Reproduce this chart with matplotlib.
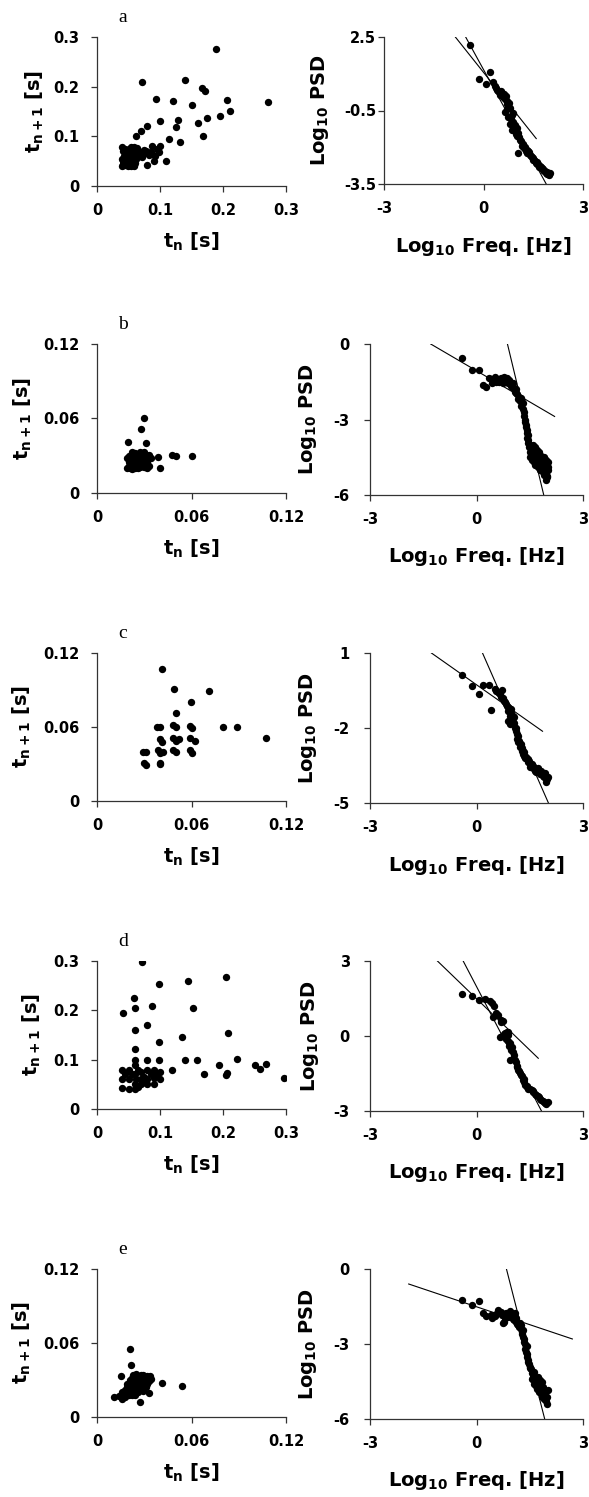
import numpy as np
import matplotlib
matplotlib.use("Agg")
import matplotlib.pyplot as plt

plt.rcParams['font.family'] = ['DejaVu Sans']
plt.rcParams['font.weight'] = 'bold'
plt.rcParams['mathtext.fontset'] = 'custom'
plt.rcParams['mathtext.rm'] = 'DejaVu Sans:bold'
plt.rcParams['mathtext.it'] = 'DejaVu Sans:bold'
plt.rcParams['mathtext.bf'] = 'DejaVu Sans:bold'
plt.rcParams['mathtext.default'] = 'rm'
plt.rcParams['axes.unicode_minus'] = False

# ---- return maps t_n vs t_n+1 (s) ----
scatter_a = [(0.189, 0.275), (0.071, 0.210), (0.139, 0.213), (0.167, 0.198), (0.172, 0.192),
             (0.094, 0.175), (0.120, 0.171), (0.150, 0.163), (0.207, 0.173), (0.272, 0.170),
             (0.211, 0.151), (0.195, 0.141), (0.174, 0.137), (0.160, 0.126), (0.129, 0.133),
             (0.125, 0.118), (0.100, 0.130), (0.080, 0.121), (0.070, 0.111), (0.062, 0.100),
             (0.114, 0.094), (0.131, 0.089), (0.169, 0.100), (0.040, 0.079), (0.054, 0.079),
             (0.087, 0.081), (0.100, 0.081), (0.099, 0.069), (0.109, 0.051), (0.090, 0.050),
             (0.079, 0.042), (0.080, 0.069), (0.068, 0.069), (0.057, 0.059), (0.040, 0.040),
             (0.042, 0.045), (0.045, 0.042), (0.048, 0.048), (0.050, 0.043), (0.052, 0.050),
             (0.055, 0.045), (0.058, 0.040), (0.060, 0.047), (0.062, 0.055), (0.040, 0.055),
             (0.043, 0.060), (0.047, 0.052), (0.050, 0.058), (0.053, 0.062), (0.056, 0.055),
             (0.059, 0.065), (0.041, 0.050), (0.044, 0.065), (0.048, 0.070), (0.051, 0.068),
             (0.055, 0.072), (0.060, 0.062), (0.065, 0.070), (0.070, 0.068), (0.075, 0.072),
             (0.045, 0.075), (0.050, 0.075), (0.058, 0.078), (0.063, 0.072), (0.068, 0.060),
             (0.072, 0.058), (0.085, 0.068), (0.092, 0.060), (0.095, 0.075), (0.041, 0.042),
             (0.043, 0.048), (0.046, 0.046), (0.049, 0.040), (0.051, 0.045), (0.054, 0.041),
             (0.056, 0.050), (0.059, 0.043), (0.044, 0.052), (0.047, 0.058), (0.052, 0.054),
             (0.057, 0.060), (0.061, 0.068), (0.066, 0.064), (0.064, 0.077), (0.073, 0.064),
             (0.078, 0.070), (0.082, 0.062), (0.088, 0.064), (0.042, 0.070), (0.053, 0.066),
             (0.046, 0.062)]

scatter_b = [(0.0296, 0.0607), (0.0277, 0.0512), (0.0196, 0.0413), (0.0309, 0.0399), (0.039, 0.029),
             (0.040, 0.020), (0.0477, 0.031), (0.0504, 0.030), (0.060, 0.0297), (0.019, 0.020),
             (0.020, 0.022), (0.021, 0.020), (0.022, 0.019), (0.023, 0.021), (0.024, 0.020),
             (0.025, 0.022), (0.026, 0.020), (0.027, 0.021), (0.028, 0.022), (0.030, 0.021),
             (0.032, 0.020), (0.033, 0.022), (0.020, 0.025), (0.021, 0.027), (0.022, 0.030),
             (0.023, 0.028), (0.024, 0.026), (0.025, 0.029), (0.026, 0.031), (0.027, 0.027),
             (0.028, 0.030), (0.029, 0.032), (0.030, 0.029), (0.031, 0.026), (0.032, 0.030),
             (0.033, 0.031), (0.034, 0.028), (0.030, 0.033), (0.027, 0.033), (0.024, 0.032),
             (0.020, 0.030), (0.019, 0.028), (0.022, 0.024), (0.029, 0.024), (0.031, 0.023),
             (0.021, 0.024), (0.023, 0.031), (0.025, 0.025), (0.026, 0.028), (0.028, 0.025),
             (0.029, 0.028), (0.031, 0.031), (0.032, 0.025), (0.023, 0.023), (0.027, 0.030),
             (0.030, 0.026), (0.022, 0.033)]

scatter_c = [(0.041, 0.107), (0.049, 0.091), (0.071, 0.089), (0.0596, 0.0805), (0.050, 0.0716),
             (0.080, 0.060), (0.089, 0.060), (0.107, 0.051), (0.038, 0.060), (0.040, 0.060),
             (0.048, 0.062), (0.050, 0.060), (0.059, 0.061), (0.060, 0.059), (0.040, 0.050),
             (0.041, 0.048), (0.048, 0.051), (0.050, 0.049), (0.052, 0.050), (0.059, 0.051),
             (0.062, 0.049), (0.029, 0.040), (0.031, 0.040), (0.039, 0.041), (0.040, 0.039),
             (0.042, 0.040), (0.048, 0.041), (0.050, 0.040), (0.059, 0.041), (0.060, 0.039),
             (0.030, 0.031), (0.031, 0.029), (0.040, 0.031), (0.040, 0.030)]

scatter_d = [(0.072, 0.297), (0.099, 0.253), (0.144, 0.259), (0.204, 0.268), (0.042, 0.195),
             (0.059, 0.224), (0.061, 0.205), (0.087, 0.208), (0.152, 0.205), (0.080, 0.171),
             (0.060, 0.160), (0.208, 0.154), (0.135, 0.145), (0.099, 0.136), (0.060, 0.121),
             (0.099, 0.100), (0.139, 0.100), (0.158, 0.100), (0.223, 0.101), (0.080, 0.100),
             (0.060, 0.100), (0.119, 0.080), (0.170, 0.070), (0.194, 0.090), (0.204, 0.069),
             (0.207, 0.072), (0.251, 0.089), (0.268, 0.092), (0.258, 0.081), (0.297, 0.063),
             (0.040, 0.080), (0.040, 0.060), (0.040, 0.042), (0.050, 0.040), (0.050, 0.060),
             (0.050, 0.080), (0.060, 0.040), (0.060, 0.050), (0.060, 0.070), (0.060, 0.090),
             (0.062, 0.060), (0.065, 0.080), (0.070, 0.050), (0.070, 0.060), (0.070, 0.075),
             (0.075, 0.065), (0.080, 0.050), (0.080, 0.060), (0.080, 0.080), (0.085, 0.070),
             (0.090, 0.050), (0.090, 0.062), (0.090, 0.080), (0.095, 0.070), (0.100, 0.060),
             (0.100, 0.075), (0.055, 0.070), (0.045, 0.070), (0.065, 0.045), (0.075, 0.055)]

scatter_e = [(0.021, 0.055), (0.0217, 0.042), (0.041, 0.0276), (0.054, 0.0249), (0.027, 0.0119),
             (0.0106, 0.016), (0.0153, 0.0335), (0.0334, 0.0335), (0.033, 0.0195), (0.014, 0.017),
             (0.016, 0.015), (0.017, 0.019), (0.018, 0.016), (0.019, 0.021), (0.020, 0.018),
             (0.021, 0.023), (0.022, 0.020), (0.023, 0.025), (0.024, 0.022), (0.025, 0.027),
             (0.026, 0.024), (0.027, 0.029), (0.028, 0.026), (0.029, 0.031), (0.030, 0.028),
             (0.031, 0.030), (0.032, 0.027), (0.020, 0.025), (0.022, 0.028), (0.024, 0.031),
             (0.026, 0.033), (0.028, 0.034), (0.023, 0.034), (0.025, 0.030), (0.027, 0.023),
             (0.029, 0.021), (0.031, 0.024), (0.018, 0.022), (0.016, 0.020), (0.021, 0.030),
             (0.030, 0.033), (0.033, 0.029), (0.019, 0.027), (0.024, 0.018), (0.026, 0.020),
             (0.022, 0.032), (0.025, 0.033), (0.027, 0.032), (0.029, 0.034), (0.031, 0.032),
             (0.026, 0.026), (0.028, 0.029), (0.024, 0.028), (0.021, 0.026), (0.019, 0.024),
             (0.017, 0.017), (0.022, 0.018), (0.030, 0.031), (0.032, 0.033), (0.034, 0.031),
             (0.028, 0.031), (0.025, 0.035), (0.023, 0.029)]

# ---- power spectra (log10 freq, log10 PSD) ----
psd_a = [(-0.41, 2.17), (-0.13, 0.77), (0.07, 0.58), (0.19, 1.06), (0.28, 0.66), (0.38, 0.42),
         (0.45, 0.30), (0.50, 0.15), (0.55, 0.22), (0.60, 0.05), (0.65, -0.05), (0.68, 0.10),
         (0.70, -0.25), (0.75, -0.30), (0.80, -0.40), (0.65, -0.55), (0.75, -0.75), (0.85, -0.70),
         (0.90, -0.60), (0.80, -1.05), (0.85, -1.30), (0.95, -1.10), (1.00, -1.20), (1.05, -1.40),
         (1.08, -1.60), (1.12, -1.75), (1.05, -2.22), (1.15, -1.95), (1.20, -1.85), (1.25, -2.00),
         (1.30, -2.10), (1.35, -2.15), (1.40, -2.30), (1.45, -2.40), (1.50, -2.45), (1.55, -2.55),
         (1.60, -2.60), (1.65, -2.70), (1.70, -2.75), (1.75, -2.85), (1.80, -2.90), (1.85, -2.95),
         (1.90, -3.00), (1.95, -3.05), (1.98, -3.08), (0.35, 0.50), (0.42, 0.35), (0.52, 0.28),
         (0.58, 0.12), (0.62, 0.18), (0.72, -0.10), (0.78, -0.20), (0.70, -0.45), (0.82, -0.85),
         (0.88, -0.95), (0.92, -1.25), (0.98, -1.45), (1.02, -1.55), (1.10, -1.70), (1.18, -1.90),
         (1.22, -2.05), (1.28, -2.15), (1.32, -2.25), (1.38, -2.20), (1.42, -2.35), (1.48, -2.50),
         (1.52, -2.50), (1.58, -2.65), (1.62, -2.68), (1.68, -2.80), (1.72, -2.82), (1.78, -2.92),
         (1.82, -2.95), (1.88, -3.05), (1.92, -3.10), (1.96, -3.12), (2.00, -3.05)]

psd_b = [(-0.42, -0.56), (-0.13, -1.02), (0.07, -1.05), (0.19, -1.62), (0.28, -1.71), (0.36, -1.35),
         (0.42, -1.40), (0.48, -1.45), (0.52, -1.30), (0.58, -1.40), (0.62, -1.50), (0.68, -1.35),
         (0.72, -1.45), (0.78, -1.30), (0.82, -1.40), (0.88, -1.55), (0.92, -1.45), (0.98, -1.65),
         (1.02, -1.55), (1.05, -1.75), (1.10, -1.80), (1.12, -1.95), (1.15, -2.00), (1.20, -2.10),
         (1.22, -2.25), (1.25, -2.15), (1.30, -2.35), (1.28, -2.30), (1.32, -2.60), (1.35, -2.85),
         (1.37, -3.10), (1.40, -3.30), (1.41, -3.54), (1.43, -3.75), (1.45, -3.94), (1.48, -4.10),
         (1.50, -4.30), (1.52, -4.50), (1.55, -4.20), (1.58, -4.00), (1.60, -4.40), (1.62, -4.70),
         (1.65, -4.10), (1.68, -4.50), (1.70, -4.80), (1.72, -4.30), (1.75, -4.60), (1.78, -4.90),
         (1.80, -4.40), (1.82, -4.70), (1.85, -5.00), (1.88, -4.60), (1.90, -5.20), (1.92, -4.80),
         (1.95, -5.10), (1.97, -5.40), (2.00, -5.00), (2.02, -4.70), (1.98, -5.25), (0.45, -1.55),
         (0.55, -1.50), (0.65, -1.45), (0.75, -1.55), (0.85, -1.35), (0.95, -1.50), (1.00, -1.70),
         (1.08, -1.90), (1.18, -2.20), (1.26, -2.45), (1.33, -2.70), (1.36, -3.00), (1.39, -3.20),
         (1.42, -3.40), (1.44, -3.60), (1.46, -3.80), (1.50, -4.00), (1.53, -4.30), (1.57, -4.60),
         (1.60, -4.10), (1.63, -4.30), (1.66, -4.80), (1.70, -4.20), (1.73, -4.90), (1.76, -4.30),
         (1.80, -5.00), (1.84, -4.50), (1.87, -5.10), (1.90, -4.50), (1.93, -5.00), (1.96, -4.60),
         (1.99, -5.30), (2.00, -4.90)]

psd_c = [(-0.42, 0.13), (-0.12, -0.32), (0.07, -0.63), (0.19, -0.29), (0.35, -0.27), (0.42, -1.27),
         (0.52, -0.43), (0.60, -0.55), (0.65, -0.65), (0.72, -0.49), (0.75, -0.80), (0.80, -0.95),
         (0.85, -1.10), (0.88, -1.30), (0.92, -1.20), (0.95, -1.50), (0.98, -1.25), (1.00, -1.65),
         (1.03, -1.76), (1.05, -1.55), (1.08, -2.00), (1.10, -2.10), (1.13, -2.23), (1.15, -2.45),
         (1.18, -2.55), (1.22, -2.76), (1.25, -2.65), (1.28, -2.90), (1.31, -3.03), (1.35, -2.95),
         (1.38, -3.20), (1.42, -3.25), (1.45, -3.35), (1.50, -3.43), (1.52, -3.55), (1.58, -3.50),
         (1.62, -3.65), (1.69, -3.76), (1.72, -3.60), (1.78, -3.85), (1.82, -3.70), (1.88, -3.90),
         (1.92, -3.80), (1.95, -3.96), (1.97, -4.16), (2.00, -3.95), (0.90, -1.70), (0.95, -1.85),
         (0.55, -0.50), (0.62, -0.60), (0.68, -0.75), (0.78, -0.90), (0.82, -1.05), (0.90, -1.15),
         (0.97, -1.40), (1.02, -1.50), (1.06, -1.80), (1.12, -2.00), (1.16, -2.30), (1.20, -2.50),
         (1.24, -2.70), (1.27, -2.80), (1.30, -2.90), (1.33, -3.10), (1.40, -3.15), (1.44, -3.25),
         (1.48, -3.30), (1.55, -3.45), (1.60, -3.55), (1.65, -3.70), (1.70, -3.65), (1.75, -3.75),
         (1.80, -3.80), (1.85, -3.85), (1.90, -3.95), (1.98, -4.05)]

psd_d = [(-0.42, 1.67), (-0.12, 1.60), (0.07, 1.44), (0.23, 1.48), (0.37, 1.41), (0.43, 1.31),
         (0.47, 0.77), (0.56, 0.91), (0.70, 0.64), (0.75, 0.60), (0.66, -0.03), (0.80, 0.11),
         (0.85, 0.15), (0.89, 0.17), (0.90, 0.05), (0.94, -0.29), (1.00, -0.45), (1.03, -0.63),
         (0.94, -0.96), (1.05, -0.75), (1.10, -1.05), (1.13, -1.23), (1.18, -1.35), (1.22, -1.49),
         (1.25, -1.55), (1.31, -1.76), (1.35, -1.85), (1.41, -2.03), (1.45, -2.10), (1.55, -2.16),
         (1.60, -2.25), (1.69, -2.36), (1.75, -2.45), (1.83, -2.56), (1.90, -2.62), (1.95, -2.70),
         (1.97, -2.67), (0.50, 1.20), (0.60, 0.85), (0.68, 0.55), (0.72, 0.00), (0.78, 0.10),
         (0.82, -0.10), (0.88, -0.20), (0.92, -0.40), (0.98, -0.55), (1.02, -0.90), (1.08, -0.95),
         (1.15, -1.20), (1.20, -1.40), (1.28, -1.60), (1.33, -1.70), (1.38, -1.95), (1.43, -2.00),
         (1.50, -2.10), (1.58, -2.20), (1.65, -2.30), (1.72, -2.40), (1.80, -2.50), (1.86, -2.58),
         (1.92, -2.66), (2.00, -2.65)]

psd_e = [(-0.42, -1.24), (-0.12, -1.44), (0.07, -1.29), (0.19, -1.76), (0.28, -1.89), (0.40, -1.85),
         (0.52, -1.89), (0.61, -1.63), (0.68, -1.70), (0.75, -2.16), (0.80, -1.95), (0.84, -1.76),
         (0.90, -1.80), (0.94, -1.69), (1.00, -1.90), (1.05, -2.05), (1.08, -1.76), (1.12, -2.10),
         (1.18, -2.25), (1.22, -2.16), (1.25, -2.40), (1.28, -2.60), (1.31, -2.43), (1.33, -2.80),
         (1.36, -3.00), (1.38, -3.20), (1.41, -3.09), (1.43, -3.40), (1.45, -3.63), (1.48, -3.80),
         (1.52, -3.95), (1.55, -4.16), (1.58, -4.30), (1.62, -4.10), (1.65, -4.50), (1.69, -4.69),
         (1.72, -4.30), (1.75, -4.60), (1.78, -4.43), (1.82, -4.80), (1.85, -4.50), (1.88, -5.00),
         (1.92, -4.96), (1.95, -5.10), (1.97, -5.29), (2.00, -4.85), (1.98, -5.40), (0.45, -1.95),
         (0.56, -1.80), (0.65, -1.75), (0.72, -1.85), (0.78, -2.10), (0.88, -1.90), (0.98, -1.75),
         (1.02, -2.00), (1.10, -1.95), (1.15, -2.20), (1.20, -2.30), (1.24, -2.25), (1.27, -2.50),
         (1.30, -2.70), (1.35, -2.90), (1.40, -3.30), (1.42, -3.50), (1.46, -3.70), (1.50, -3.90),
         (1.54, -4.00), (1.57, -4.40), (1.60, -4.20), (1.63, -4.60), (1.67, -4.40), (1.70, -4.80),
         (1.74, -4.50), (1.77, -4.90), (1.80, -4.60), (1.84, -5.10), (1.87, -4.70), (1.90, -5.20),
         (1.94, -4.90), (1.99, -5.10)]

# fitted power laws: (slope, intercept, x start, x end)
fits_a = [(-1.70, 1.057, -0.85, 1.59), (-2.47, 1.171, -0.54, 1.89)]
fits_b = [(-0.825, -1.064, -1.29, 2.20), (-5.87, 5.119, 0.872, 1.894)]
fits_c = [(-1.00, -0.27, -1.27, 1.86), (-3.23, 1.546, 0.169, 2.025)]
fits_d = [(-1.37, 1.493, -1.10, 1.74), (-2.72, 1.98, -0.375, 1.83)]
fits_e = [(-0.477, -1.511, -1.91, 2.70), (-5.57, 4.70, 0.844, 1.92)]

panel_letters = ['a', 'b', 'c', 'd', 'e']
scatter_max = [0.3, 0.12, 0.12, 0.3, 0.12]
scatter_ticks = [[0, 0.1, 0.2, 0.3], [0, 0.06, 0.12], [0, 0.06, 0.12], [0, 0.1, 0.2, 0.3], [0, 0.06, 0.12]]
scatter_ticklabels = [['0', '0.1', '0.2', '0.3'], ['0', '0.06', '0.12'], ['0', '0.06', '0.12'],
                      ['0', '0.1', '0.2', '0.3'], ['0', '0.06', '0.12']]
psd_yticks = [[-3.5, -0.5, 2.5], [-6, -3, 0], [-5, -2, 1], [-3, 0, 3], [-6, -3, 0]]
psd_yticklabels = [['-3.5', '-0.5', '2.5'], ['-6', '-3', '0'], ['-5', '-2', '1'], ['-3', '0', '3'], ['-6', '-3', '0']]
freq_ticks = [-3, 0, 3]
freq_ticklabels = ['-3', '0', '3']

scatters = [scatter_a, scatter_b, scatter_c, scatter_d, scatter_e]
psds = [psd_a, psd_b, psd_c, psd_d, psd_e]
fits = [fits_a, fits_b, fits_c, fits_d, fits_e]

# layout in pixels
W, H = 589, 1497
left_tops = [37, 344, 653, 961, 1269]
left_bots = [186, 493, 801, 1109, 1417]
right_bots = [184, 495, 803, 1111, 1419]
right_lefts = [384, 370, 370, 370, 370]
left_ylab_x = [35, 23, 22, 32, 22]
right_ylab_x = [320, 308, 308, 310, 308]


def box(l, t, r, b):
    return [l / W, 1 - b / H, (r - l) / W, (b - t) / H]


def style(ax, ypad):
    for s in ['top', 'right']:
        ax.spines[s].set_visible(False)
    for s in ['left', 'bottom']:
        ax.spines[s].set_linewidth(0.9)
        ax.spines[s].set_color('#333333')
    ax.tick_params(axis='both', direction='out', length=4.5, width=0.9, color='#333333',
                   labelsize=10.5)
    ax.tick_params(axis='x', pad=8)
    ax.tick_params(axis='y', pad=ypad)
    ax.set_facecolor('none')


fig = plt.figure(figsize=(W / 100, H / 100), dpi=100)

for i in range(5):
    # return map
    ax = fig.add_axes(box(97, left_tops[i], 286, left_bots[i]))
    pts = np.array(scatters[i])
    ax.scatter(pts[:, 0], pts[:, 1], s=28, color='black', linewidths=0, zorder=3)
    ax.set_xlim(0, scatter_max[i])
    ax.set_ylim(0, scatter_max[i])
    ax.set_xticks(scatter_ticks[i])
    ax.set_xticklabels(scatter_ticklabels[i])
    ax.set_yticks(scatter_ticks[i])
    ax.set_yticklabels(scatter_ticklabels[i])
    style(ax, 8)
    h = left_bots[i] - left_tops[i]
    ax.set_xlabel('t$_{n}$ [s]', fontsize=14, fontweight='bold')
    ax.xaxis.set_label_coords(0.5, -56 / h)
    ax.xaxis.label.set_va('center')
    ax.set_ylabel('t$_{n+1}$ [s]', fontsize=14, fontweight='bold')
    ax.yaxis.set_label_coords((left_ylab_x[i] - 97) / 189, 0.5)
    ax.yaxis.label.set_va('center')
    ax.text(26 / 189, 1 + 19 / h, panel_letters[i], transform=ax.transAxes,
            family='Liberation Serif', fontweight='normal', fontsize=14,
            ha='center', va='center')

    # power spectrum
    ax2 = fig.add_axes(box(right_lefts[i], left_tops[i], 583, right_bots[i]))
    p = np.array(psds[i])
    ax2.scatter(p[:, 0], p[:, 1], s=28, color='black', linewidths=0, zorder=3)
    for slope, icpt, x0, x1 in fits[i]:
        xs = np.array([x0, x1])
        ax2.plot(xs, slope * xs + icpt, color='black', lw=0.8, zorder=2)
    ax2.set_xlim(-3, 3)
    ax2.set_ylim(psd_yticks[i][0], psd_yticks[i][-1])
    ax2.set_xticks(freq_ticks)
    ax2.set_xticklabels(freq_ticklabels)
    ax2.set_yticks(psd_yticks[i])
    ax2.set_yticklabels(psd_yticklabels[i])
    style(ax2, 1 if i == 0 else 10)
    h2 = right_bots[i] - left_tops[i]
    ax2.set_xlabel('Log$_{10}$ Freq. [Hz]', fontsize=14, fontweight='bold')
    ax2.xaxis.set_label_coords(0.5, -62 / h2)
    ax2.xaxis.label.set_va('center')
    ax2.set_ylabel('Log$_{10}$ PSD', fontsize=14, fontweight='bold')
    ax2.yaxis.set_label_coords((right_ylab_x[i] - right_lefts[i]) / (583 - right_lefts[i]), 0.5)
    ax2.yaxis.label.set_va('center')

fig.savefig('out.png', dpi=100, facecolor='white')
